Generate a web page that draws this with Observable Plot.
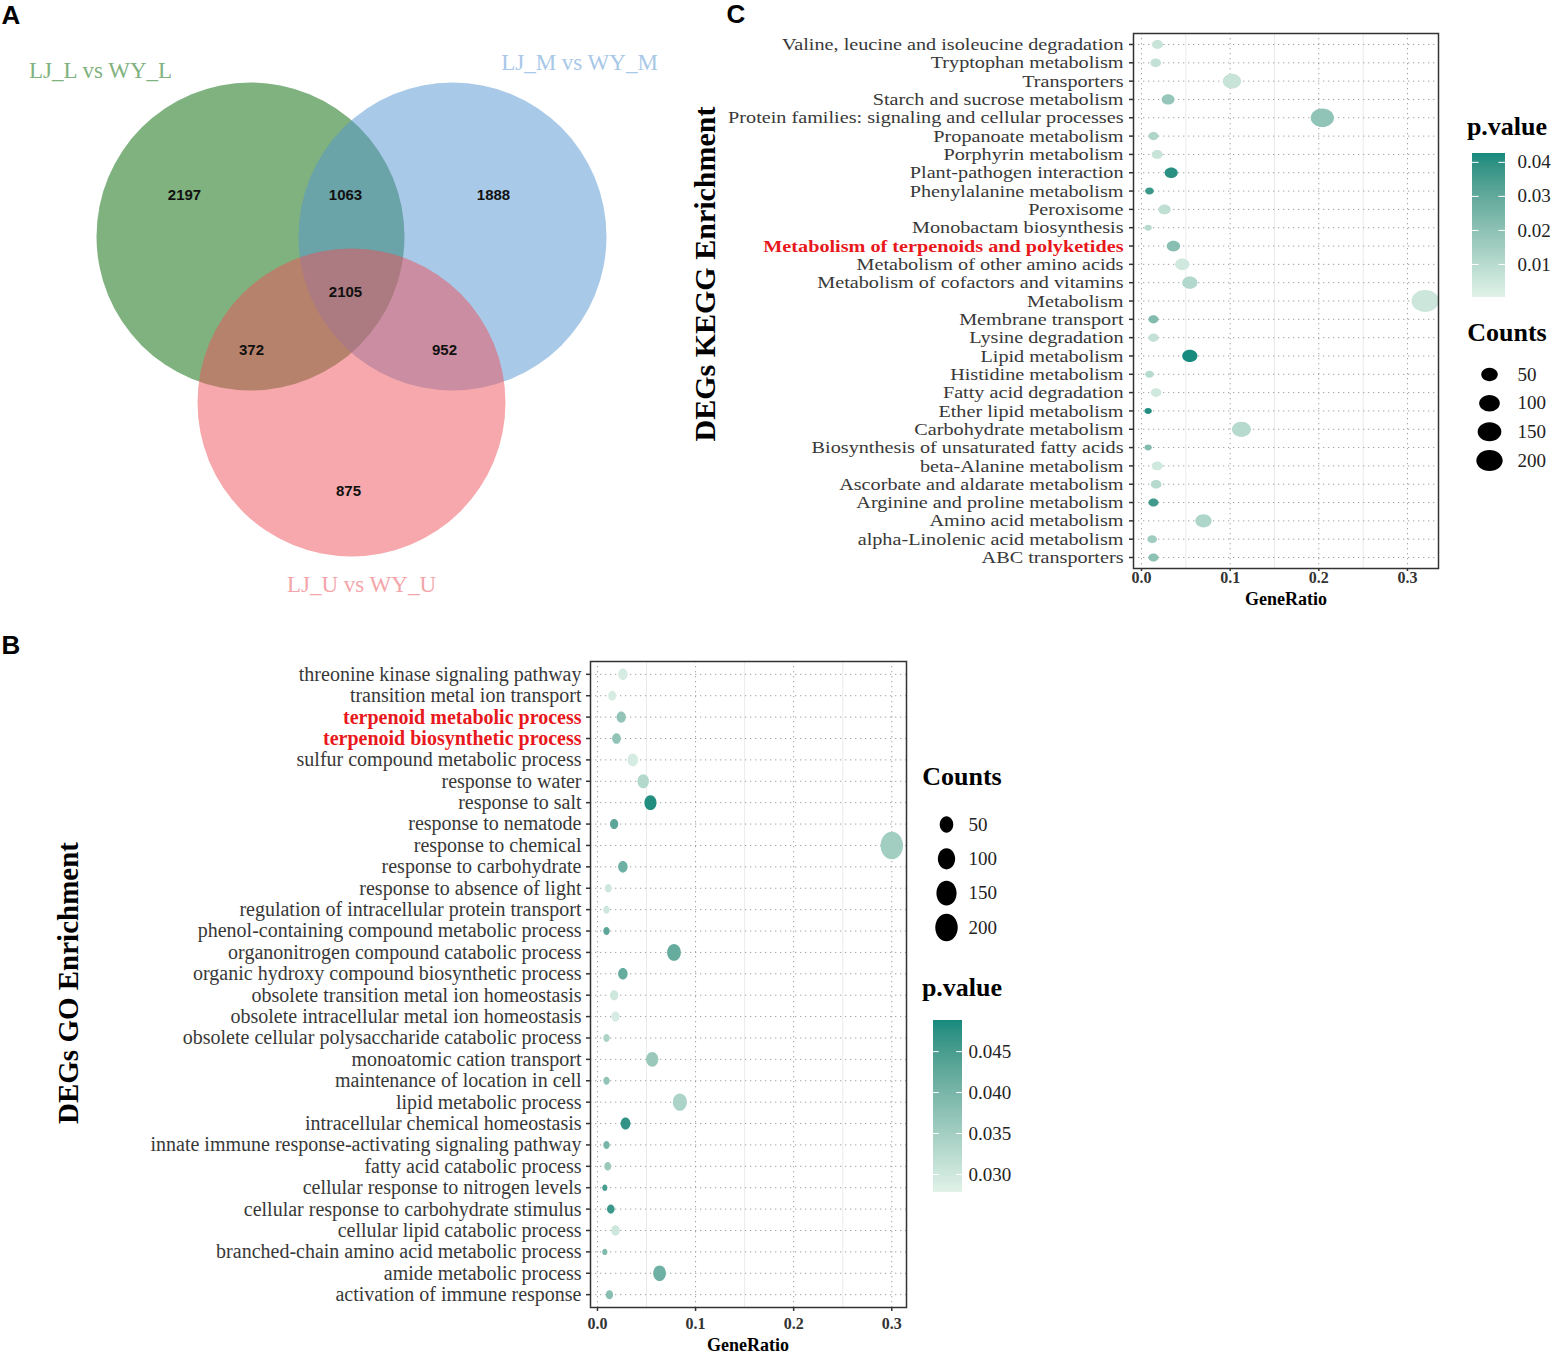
<!DOCTYPE html>
<html><head><meta charset="utf-8">
<script src="https://cdn.jsdelivr.net/npm/d3@7"></script>
<script src="https://cdn.jsdelivr.net/npm/@observablehq/plot@0.6"></script>
<style>
html,body{margin:0;padding:0;background:#fff;}
#fig{position:relative;width:1560px;height:1360px;overflow:hidden;font-family:"Liberation Serif",serif;background:#fff;}
.t{position:absolute;white-space:nowrap;transform:translate(-50%,-50%);line-height:1;}
</style></head><body><div id="fig"></div>
<script>
// ---------------- DATA ----------------
// Panel A: Venn
const vennSets = ["LJ_L vs WY_L", "LJ_M vs WY_M", "LJ_U vs WY_U"];
const vennRegions = ["L only", "L∩M", "M only", "L∩M∩U", "L∩U", "M∩U", "U only"];
const vennCounts = [2197, 1063, 1888, 2105, 372, 952, 875];

// Panel C: KEGG
const keggTerms = [
  "Valine, leucine and isoleucine degradation","Tryptophan metabolism","Transporters",
  "Starch and sucrose metabolism","Protein families: signaling and cellular processes",
  "Propanoate metabolism","Porphyrin metabolism","Plant-pathogen interaction",
  "Phenylalanine metabolism","Peroxisome","Monobactam biosynthesis",
  "Metabolism of terpenoids and polyketides","Metabolism of other amino acids",
  "Metabolism of cofactors and vitamins","Metabolism","Membrane transport",
  "Lysine degradation","Lipid metabolism","Histidine metabolism","Fatty acid degradation",
  "Ether lipid metabolism","Carbohydrate metabolism","Biosynthesis of unsaturated fatty acids",
  "beta-Alanine metabolism","Ascorbate and aldarate metabolism","Arginine and proline metabolism",
  "Amino acid metabolism","alpha-Linolenic acid metabolism","ABC transporters"];
const keggRatio = [0.018,0.016,0.102,0.030,0.204,0.0135,0.0177,0.0335,0.009,0.026,0.0075,0.036,0.046,0.0545,0.320,0.0135,0.0135,0.0545,0.009,0.0165,0.0075,0.1127,0.0075,0.0177,0.0165,0.0135,0.0699,0.012,0.0135];
const keggCount = [12,11,70,21,141,9,12,23,6,18,5,25,32,38,221,9,9,38,6,11,5,78,5,12,11,9,48,8,9];
const keggP = [0.006,0.007,0.006,0.018,0.019,0.012,0.006,0.040,0.037,0.008,0.010,0.021,0.004,0.011,0.005,0.022,0.007,0.042,0.010,0.004,0.041,0.010,0.022,0.004,0.010,0.036,0.012,0.015,0.020];
const keggHighlight = ["Metabolism of terpenoids and polyketides"];
const keggPTicks = [0.01, 0.02, 0.03, 0.04];
const keggPDomain = [0.0003, 0.0426];

// Panel B: GO
const goTerms = [
  "threonine kinase signaling pathway","transition metal ion transport","terpenoid metabolic process",
  "terpenoid biosynthetic process","sulfur compound metabolic process","response to water",
  "response to salt","response to nematode","response to chemical","response to carbohydrate",
  "response to absence of light","regulation of intracellular protein transport",
  "phenol-containing compound metabolic process","organonitrogen compound catabolic process",
  "organic hydroxy compound biosynthetic process","obsolete transition metal ion homeostasis",
  "obsolete intracellular metal ion homeostasis","obsolete cellular polysaccharide catabolic process",
  "monoatomic cation transport","maintenance of location in cell","lipid metabolic process",
  "intracellular chemical homeostasis","innate immune response-activating signaling pathway",
  "fatty acid catabolic process","cellular response to nitrogen levels",
  "cellular response to carbohydrate stimulus","cellular lipid catabolic process",
  "branched-chain amino acid metabolic process","amide metabolic process","activation of immune response"];
const goRatio = [0.0259,0.015,0.0242,0.0194,0.036,0.0466,0.054,0.017,0.300,0.0259,0.011,0.0092,0.0092,0.078,0.0259,0.017,0.0184,0.0092,0.0558,0.0092,0.084,0.0286,0.0092,0.0105,0.0075,0.0136,0.0184,0.0075,0.0633,0.0122];
const goCount = [17,10,16,13,24,31,36,11,200,17,7,6,6,52,17,11,12,6,37,6,56,19,6,7,5,9,12,5,42,8];
const goP = [0.029,0.029,0.037,0.037,0.029,0.033,0.048,0.043,0.035,0.041,0.030,0.030,0.043,0.042,0.042,0.030,0.029,0.034,0.036,0.037,0.034,0.047,0.040,0.036,0.045,0.046,0.030,0.039,0.041,0.038];
const goHighlight = ["terpenoid metabolic process","terpenoid biosynthetic process"];
const goPTicks = [0.030, 0.035, 0.040, 0.045];
const goPDomain = [0.0278, 0.0488];

const ratioTicks = [0, 0.1, 0.2, 0.3];
const ratioMinor = [0.05, 0.15, 0.25];
const countTicks = [50, 100, 150, 200];

// ---------------- LAYOUT / STYLE ----------------
const SERIF = "'Liberation Serif', 'Times New Roman', serif";
const SANS = "'Liberation Sans', Arial, sans-serif";
const vennFill = ["rgb(1,101,0)", "rgb(83,147,209)", "rgb(237,81,89)"];
const vennLabelFill = ["#7fb27e", "#a8c8e8", "#f3a5aa"];
const vennCircleLayout = [{cx: 250, cy: 236}, {cx: 452, cy: 236}, {cx: 351, cy: 402}];
const vennLabelLayout = [{x: 100, y: 70}, {x: 579, y: 62}, {x: 361, y: 584}];
const vennCountLayout = [{x:184,y:195},{x:345,y:195},{x:493,y:195},{x:345,y:292},{x:251,y:350},{x:444,y:350},{x:348,y:491}];

const fig = document.getElementById("fig");
function place(el, left, top) {
  el.style.position = "absolute"; el.style.left = left + "px"; el.style.top = top + "px";
  fig.appendChild(el);
}
function label(text, cx, cy, css, rotate) {
  const d = document.createElement("div");
  d.className = "t"; d.textContent = text;
  d.style.left = cx + "px"; d.style.top = cy + "px";
  d.style.cssText += css;
  if (rotate) d.style.transform = "translate(-50%,-50%) rotate(-90deg)";
  fig.appendChild(d);
}
// horizontally stretch term labels around their (right-end) anchor
function stretchText(svg, terms, sx) {
  const set = new Set(terms);
  d3.select(svg).selectAll("text").filter(function () { return set.has(this.textContent); }).each(function () {
    const t = this.getAttribute("transform") || "";
    this.setAttribute("transform", `${t} scale(${sx},1)`);
  });
}
function ellipseSymbol(sx, sy) {
  return {draw(ctx, size) {
    const r = Math.sqrt(size / Math.PI), a = r * sx, b = r * sy, k = 0.5523;
    ctx.moveTo(a, 0);
    ctx.bezierCurveTo(a, k * b, k * a, b, 0, b);
    ctx.bezierCurveTo(-k * a, b, -a, k * b, -a, 0);
    ctx.bezierCurveTo(-a, -k * b, -k * a, -b, 0, -b);
    ctx.bezierCurveTo(k * a, -b, a, -k * b, a, 0);
    ctx.closePath();
  }};
}
const colorScale = (domain) => ({type: "linear", domain, range: ["#e0f2e8", "#108a7c"], interpolate: "lab"});
const sizeScale = (cmin, cmax, r0, r1) => ({type: "linear", transform: (c) => Math.sqrt(Math.max(0, c - cmin) / (cmax - cmin)), domain: [0, 1], range: [r0, r1]});

const keggR = sizeScale(5, 221, 3.3, 12.2);
const goR = sizeScale(5, 200, 2.9, 12.5);
const keggSym = ellipseSymbol(1.12, 0.9);
const goSym = ellipseSymbol(0.9, 1.1);

// ---------------- PANEL A: VENN ----------------
const circles = vennSets.map((s, i) => ({name: s, fill: vennFill[i], ...vennCircleLayout[i]}));
const setLabels = vennSets.map((s, i) => ({name: s, fill: vennLabelFill[i], ...vennLabelLayout[i]}));
const regions = vennRegions.map((r, i) => ({region: r, count: vennCounts[i], ...vennCountLayout[i]}));
const venn = Plot.plot({
  width: 680, height: 610, margin: 0,
  style: {background: "transparent", overflow: "visible"},
  x: {domain: [0, 680], range: [0, 680], axis: null},
  y: {domain: [0, 610], range: [0, 610], axis: null},
  color: {type: "identity"},
  marks: [
    Plot.dot(circles, {x: "cx", y: "cy", r: 154, fill: "fill", fillOpacity: 0.5, stroke: "none"}),
    Plot.text(regions, {x: "x", y: "y", text: (d) => String(d.count), fontFamily: SANS, fontWeight: "bold", fontSize: 15, fill: "#111"}),
    Plot.text(setLabels, {x: "x", y: "y", text: "name", fill: "fill", fontFamily: SERIF, fontSize: 23})
  ]
});
place(venn, 0, 0);

// ---------------- DOT PLOTS ----------------
function dotPlot(o) {
  const data = o.terms.map((t, i) => ({term: t, ratio: o.ratio[i], count: o.count[i], p: o.p[i]}));
  const normal = o.terms.filter((t) => !o.highlight.includes(t));
  const svg = Plot.plot({
    width: o.width, height: o.height,
    marginLeft: o.ml, marginRight: o.mr, marginTop: o.mt, marginBottom: o.mb,
    style: {fontFamily: SERIF, background: "transparent", overflow: "visible"},
    x: {domain: o.xDomain, axis: null},
    y: {type: "point", domain: o.terms, padding: 0.6, round: false, axis: null},
    r: o.rScale,
    color: colorScale(o.pDomain),
    marks: [
      Plot.gridX(ratioMinor, {stroke: "#ebebeb", strokeOpacity: 1, strokeWidth: 1}),
      Plot.gridX(ratioTicks, {stroke: "#a0a0a0", strokeOpacity: 1, strokeWidth: 1, strokeDasharray: "1.3,3.7"}),
      Plot.gridY(o.terms, {stroke: "#a0a0a0", strokeOpacity: 1, strokeWidth: 1, strokeDasharray: "1.3,3.7"}),
      Plot.dot(data, {x: "ratio", y: "term", r: "count", fill: "p", symbol: o.symbol, stroke: "none"}),
      Plot.frame({stroke: "#333", strokeWidth: 1.5}),
      Plot.axisY(o.terms, {tickSize: 4, tickFormat: () => "", stroke: "#333", strokeWidth: 1.5, label: null}),
      Plot.text(normal, {y: (d) => d, frameAnchor: "left", dx: o.labelDx, textAnchor: "end", fill: "#383838", fontSize: o.fontSize, fontFamily: SERIF}),
      Plot.text(o.highlight, {y: (d) => d, frameAnchor: "left", dx: o.labelDx, textAnchor: "end", fill: "#e8181c", fontWeight: "bold", fontSize: o.fontSize, fontFamily: SERIF}),
      Plot.axisX(ratioTicks, {tickSize: o.xTickSize, tickPadding: o.xTickPadding, tickFormat: d3.format(".1f"), fontSize: 16, fontWeight: "bold", color: "#333", strokeWidth: 1.5, label: null, fontFamily: SERIF})
    ]
  });
  if (o.stretch !== 1) stretchText(svg, o.terms, o.stretch);
  return svg;
}

const kegg = dotPlot({terms: keggTerms, ratio: keggRatio, count: keggCount, p: keggP, highlight: keggHighlight,
  xDomain: [-0.009, 0.335], pDomain: keggPDomain, rScale: keggR, symbol: keggSym,
  width: 770, height: 620, ml: 443, mr: 22, mt: 33, mb: 52, fontSize: 17.5, stretch: 1.155, labelDx: -10, xTickSize: 3, xTickPadding: 0});
place(kegg, 690, 0);

const go = dotPlot({terms: goTerms, ratio: goRatio, count: goCount, p: goP, highlight: goHighlight,
  xDomain: [-0.0071, 0.315], pDomain: goPDomain, rScale: goR, symbol: goSym,
  width: 800, height: 720, ml: 460, mr: 24, mt: 21, mb: 53, fontSize: 20, stretch: 1, labelDx: -9, xTickSize: 4, xTickPadding: 6});
place(go, 130, 640);

// ---------------- LEGENDS ----------------
function colorBar(o) {
  const N = 140, step = (o.domain[1] - o.domain[0]) / N;
  const strips = d3.range(N).map((i) => o.domain[0] + step * i);
  return Plot.plot({
    width: o.width, height: o.height,
    marginLeft: o.ml, marginRight: o.mr, marginTop: o.mt, marginBottom: o.mb,
    style: {fontFamily: SERIF, background: "transparent", overflow: "visible"},
    x: {domain: [0, 1], axis: null},
    y: {domain: o.domain, axis: null},
    color: colorScale(o.domain),
    marks: [
      Plot.rect(strips, {x1: 0, x2: 1, y1: (d) => d, y2: (d) => Math.min(o.domain[1], d + step * 1.05), fill: (d) => d, shapeRendering: "crispEdges"}),
      Plot.ruleY(o.ticks, {x1: 0, x2: 0.2, stroke: "white", strokeWidth: 1}),
      Plot.ruleY(o.ticks, {x1: 0.8, x2: 1, stroke: "white", strokeWidth: 1}),
      Plot.text(o.ticks, {x: 1, y: (d) => d, dx: o.dx, textAnchor: "start", text: o.fmt, fontSize: 19, fill: "#222", fontFamily: SERIF})
    ]
  });
}
function sizeLegend(o) {
  return Plot.plot({
    width: o.width, height: o.height, margin: 0,
    style: {fontFamily: SERIF, background: "transparent", overflow: "visible"},
    x: {domain: [0, 1], range: o.xRange, axis: null},
    y: {type: "point", domain: countTicks, range: o.yRange, padding: 0, round: false, axis: null},
    r: o.rScale,
    marks: [
      Plot.dot(countTicks, {x: 0, y: (d) => d, r: (d) => d, fill: "black", symbol: o.symbol, stroke: "none"}),
      Plot.text(countTicks, {x: 1, y: (d) => d, text: (d) => String(d), textAnchor: "start", fontSize: 19, fill: "#222", fontFamily: SERIF})
    ]
  });
}

place(colorBar({domain: keggPDomain, ticks: keggPTicks, fmt: (d) => d3.format(".2f")(d), width: 100, height: 170, ml: 12, mr: 55, mt: 13, mb: 13, dx: 12}), 1460, 140);
place(sizeLegend({rScale: keggR, symbol: keggSym, width: 100, height: 130, xRange: [29, 57], yRange: [24, 110]}), 1460, 350);
place(sizeLegend({rScale: goR, symbol: goSym, width: 100, height: 150, xRange: [31, 53], yRange: [24, 127]}), 915, 800);
place(colorBar({domain: goPDomain, ticks: goPTicks, fmt: (d) => d3.format(".3f")(d), width: 100, height: 200, ml: 13, mr: 58, mt: 15, mb: 13, dx: 6}), 920, 1005);

// ---------------- TEXT ----------------
const bold = (size, fam) => `font-family:${fam || SERIF};font-weight:bold;font-size:${size}px;color:#000;`;
label("A", 11, 15, bold(26, SANS));
label("B", 11, 645, bold(26, SANS));
label("C", 736, 14, bold(26, SANS));
label("DEGs KEGG Enrichment", 705, 274, bold(30), true);
label("DEGs GO Enrichment", 68, 983, bold(29), true);
label("GeneRatio", 1286, 599, bold(18));
label("GeneRatio", 748, 1345, bold(18));
label("p.value", 1507, 127, bold(26));
label("Counts", 1507, 333, bold(26));
label("Counts", 962, 777, bold(26));
label("p.value", 962, 988, bold(26));
</script></body></html>
